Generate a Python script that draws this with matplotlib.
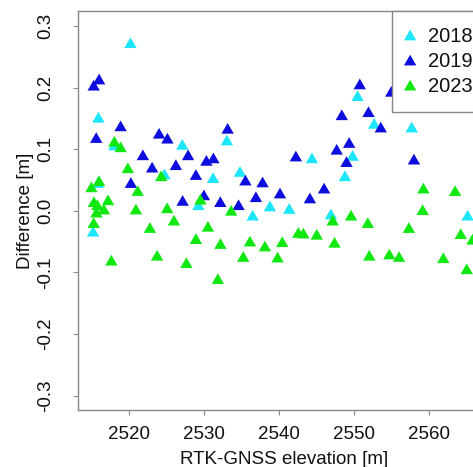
import numpy as np
import matplotlib
matplotlib.use('Agg')
import matplotlib.pyplot as plt

plt.rcParams['font.family'] = ['Liberation Sans', 'DejaVu Sans']

# values
elev_2018 = [2520.16, 2515.88, 2518.01, 2527.07, 2533.01, 2515.81, 2524.69, 2515.17,
             2529.21, 2531.17, 2534.75, 2536.44, 2538.75, 2541.32, 2544.35, 2546.88,
             2548.75, 2549.77, 2550.44, 2552.64, 2557.65, 2563.45, 2565.11]
diff_2018 = [0.270, 0.149, 0.104, 0.105, 0.112, 0.043, 0.057, -0.036,
             0.007, 0.051, 0.061, -0.010, 0.005, 0.001, 0.083, -0.008,
             0.054, 0.087, 0.184, 0.139, 0.133, 0.168, -0.010]

elev_2019 = [2515.25, 2515.97, 2518.84, 2515.59, 2523.97, 2525.08, 2533.11, 2521.81,
             2523.04, 2526.21, 2527.84, 2530.28, 2531.21, 2528.88, 2520.21, 2529.95,
             2527.11, 2532.13, 2534.57, 2535.48, 2537.77, 2540.09, 2536.88, 2542.21,
             2544.08, 2545.97, 2547.65, 2549.31, 2548.96, 2548.33, 2550.73, 2551.89,
             2553.53, 2554.93, 2557.95]
diff_2019 = [0.201, 0.211, 0.135, 0.116, 0.123, 0.115, 0.131, 0.088,
             0.068, 0.072, 0.088, 0.079, 0.083, 0.056, 0.043, 0.023,
             0.014, 0.012, 0.007, 0.047, 0.044, 0.026, 0.020, 0.086,
             0.018, 0.034, 0.097, 0.108, 0.077, 0.153, 0.203, 0.158,
             0.133, 0.191, 0.081]

elev_2023 = [2514.95, 2515.97, 2518.01, 2518.84, 2519.81, 2524.25, 2521.12, 2529.48,
             2515.28, 2515.75, 2517.17, 2516.61, 2515.61, 2520.88, 2525.05, 2533.59,
             2515.25, 2522.75, 2525.95, 2530.48, 2528.88, 2532.15, 2517.61, 2523.71,
             2527.61, 2531.81, 2535.19, 2536.08, 2538.08, 2540.39, 2539.77, 2542.53,
             2543.20, 2544.99, 2547.36, 2547.12, 2549.57, 2551.80, 2552.00, 2554.67,
             2555.96, 2557.28, 2559.21, 2559.11, 2563.44, 2561.87, 2564.19, 2564.99,
             2565.75]
diff_2023 = [0.036, 0.046, 0.110, 0.101, 0.067, 0.054, 0.030, 0.016,
             0.012, 0.007, 0.015, 0.000, -0.005, 0.000, 0.002, -0.002,
             -0.022, -0.030, -0.018, -0.028, -0.048, -0.056, -0.083, -0.075,
             -0.087, -0.113, -0.077, -0.052, -0.060, -0.053, -0.078, -0.038,
             -0.039, -0.041, -0.054, -0.018, -0.010, -0.022, -0.075, -0.073,
             -0.077, -0.030, 0.034, -0.001, 0.030, -0.079, -0.040, -0.097,
             -0.049]

years = ['2018', '2019', '2023']
colors = ['#1EE6FA', '#0D0DDD', '#11E811']

# R style filled triangle (pch = 17)
tri = [(-1, -0.577), (1, -0.577), (0, 1.155)]

W, H = 473, 467
fig = plt.figure(figsize=(W / 100, H / 100), dpi=100)
ax = fig.add_axes([78 / W, 57 / H, 412 / W, 399 / H])

series = [(elev_2018, diff_2018), (elev_2019, diff_2019), (elev_2023, diff_2023)]
for (xs, ys), yr, c in zip(series, years, colors):
    ax.scatter(xs, ys, marker=tri, s=10.3 ** 2, color=c, edgecolors='none',
               label=yr, zorder=3)

ax.set_xlim(2513.16, 2568.09)
ax.set_ylim(-0.3232, 0.3243)
ax.set_xticks([2520, 2530, 2540, 2550, 2560])
ax.set_yticks([-0.3, -0.2, -0.1, 0.0, 0.1, 0.2, 0.3])
ax.set_yticklabels(['-0.3', '-0.2', '-0.1', '0.0', '0.1', '0.2', '0.3'],
                   rotation=90, va='center')

for s in ['left', 'bottom', 'top']:
    ax.spines[s].set_color('#888888')
    ax.spines[s].set_linewidth(1.0)
ax.spines['right'].set_visible(False)
ax.tick_params(axis='both', direction='out', length=3.3, width=0.8,
               color='#888888', labelsize=13.5, labelcolor='#111111')
ax.tick_params(axis='y', pad=14)
ax.tick_params(axis='x', pad=8)

ax.set_xlabel('RTK-GNSS elevation [m]', fontsize=13.5, color='#111111', labelpad=6)
ax.set_ylabel('Difference [m]', fontsize=13.5, color='#111111', labelpad=2)

# legend box: left edge at x=392 px, top aligned with the plot box
leg = ax.legend(loc='upper left', bbox_to_anchor=(392 / W, 456 / H),
                bbox_transform=fig.transFigure, borderaxespad=0,
                fontsize=14.5, fancybox=False, framealpha=1, edgecolor='#888888',
                handletextpad=0.8, labelspacing=0.3, borderpad=0.8,
                handlelength=0.2, scatterpoints=1)
leg.get_frame().set_linewidth(1.0)
for t in leg.get_texts():
    t.set_color('#111111')

fig.savefig('out.png', dpi=100)
